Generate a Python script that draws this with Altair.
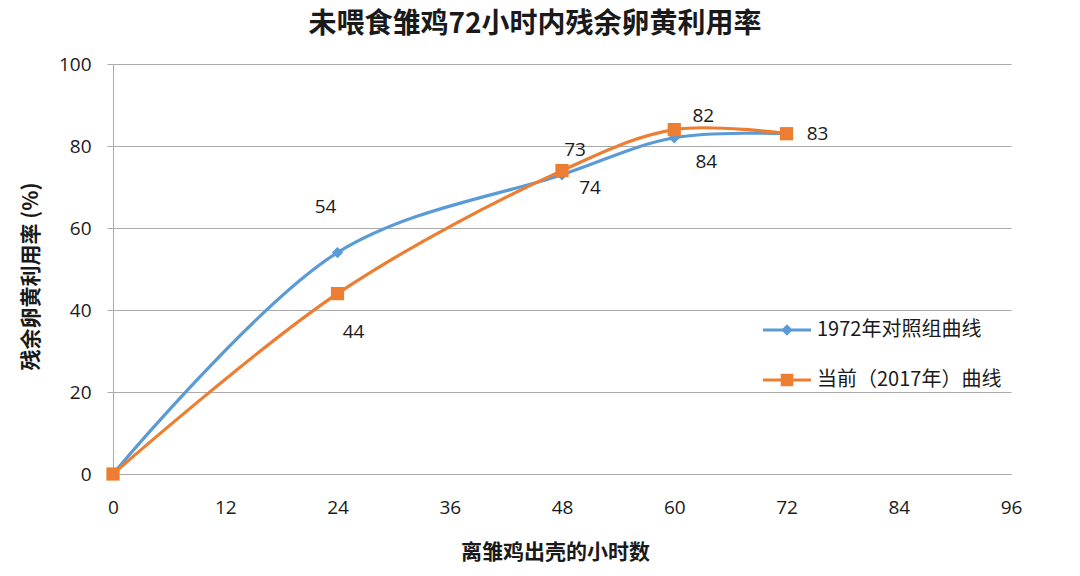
import altair as alt
import pandas as pd

# ---- data ----
hours = [0, 24, 48, 60, 72]
series_names = ["1972年对照组曲线", "当前（2017年）曲线"]
values_1972 = [0, 54, 73, 82, 83]
values_2017 = [0, 44, 74, 84, 83]
x_ticks = [0, 12, 24, 36, 48, 60, 72, 84, 96]
y_ticks = [0, 20, 40, 60, 80, 100]

rows = []
for h, v in zip(hours, values_1972):
    rows.append({"hour": h, "value": v, "series": series_names[0]})
for h, v in zip(hours, values_2017):
    rows.append({"hour": h, "value": v, "series": series_names[1]})
df = pd.DataFrame(rows)

# ---- styling ----
BLUE = "#5B9BD5"
ORANGE = "#ED7D31"
colors = [BLUE, ORANGE]
CJK = "Noto Sans CJK SC"
NUM = "Open Sans"
TXT = "#1a1a1a"
GRID = "#ababab"

x_enc = alt.X(
    "hour:Q",
    scale=alt.Scale(domain=[0, 96], nice=False, zero=False),
    axis=alt.Axis(
        values=x_ticks, grid=False, ticks=False, tickSize=0,
        domainColor=GRID, domainWidth=1, labelFlush=False,
        labelFont=NUM, labelFontSize=19, labelColor=TXT, labelPadding=24,
        title="离雏鸡出壳的小时数", titleFont=CJK, titleFontSize=21,
        titleFontWeight="bold", titleColor=TXT,
        titleX=442, titleY=78, titleBaseline="middle",
    ),
)
y_enc = alt.Y(
    "value:Q",
    scale=alt.Scale(domain=[0, 100], nice=False),
    axis=alt.Axis(
        values=y_ticks, grid=True, gridColor=GRID, gridWidth=1,
        ticks=True, tickSize=6, tickColor=GRID, labelFlush=False,
        domainColor=GRID, domainWidth=1,
        labelFont=NUM, labelFontSize=19, labelColor=TXT, labelPadding=16,
        title="残余卵黄利用率 (%)", titleFont=CJK, titleFontSize=21,
        titleFontWeight="bold", titleColor=TXT,
        titleX=-82, titleY=212, titleAngle=270, titleBaseline="middle",
    ),
)

base = alt.Chart(df).encode(x=x_enc, y=y_enc)

layers = []
for name, col in zip(series_names, colors):
    layers.append(
        base.transform_filter(alt.datum.series == name)
        .mark_line(interpolate="catmull-rom", strokeWidth=3.2, color=col)
    )
layers.append(
    base.transform_filter(alt.datum.series == series_names[0])
    .mark_point(shape="diamond", filled=True, size=130, color=BLUE, opacity=1)
)
layers.append(
    base.transform_filter(alt.datum.series == series_names[1])
    .mark_point(shape="square", filled=True, size=175, color=ORANGE, opacity=1)
)

# data labels: (series index, hour) -> pixel offset
label_offsets = [
    (0, 24, -12, -46),
    (1, 24, 16, 38),
    (0, 48, 13, -25),
    (1, 48, 28, 17),
    (0, 60, 29, -22),
    (1, 60, 32, 32),
    (1, 72, 31, 0),
]
for si, h, dx, dy in label_offsets:
    layers.append(
        base.transform_filter(
            (alt.datum.series == series_names[si]) & (alt.datum.hour == h)
        )
        .mark_text(dx=dx, dy=dy, font=NUM, fontSize=19, color=TXT, baseline="middle")
        .encode(text=alt.Text("value:Q", format="d"))
    )

# legend (line + marker symbols)
diamond_path = "M-1,-0.065L1,-0.065L1,0.065L-1,0.065Z M0,-0.24L0.24,0L0,0.24L-0.24,0Z"
square_path = "M-1,-0.065L1,-0.065L1,0.065L-1,0.065Z M-0.26,-0.26L0.26,-0.26L0.26,0.26L-0.26,0.26Z"
legend_def = alt.Legend(
    title=None, orient="none", legendX=650, legendY=242,
    symbolSize=2304, symbolOpacity=1, symbolStrokeWidth=0,
    labelFont=CJK, labelFontSize=20, labelColor=TXT,
    labelOffset=6, rowPadding=16, padding=0, labelLimit=400,
)
legend_layer = base.mark_point(filled=True, opacity=0).encode(
    color=alt.Color(
        "series:N",
        scale=alt.Scale(domain=series_names, range=colors),
        legend=legend_def,
    ),
    shape=alt.Shape(
        "series:N",
        scale=alt.Scale(domain=series_names, range=[diamond_path, square_path]),
        legend=legend_def,
    ),
)
layers.append(legend_layer)

chart = (
    alt.layer(*layers)
    .properties(
        width=898,
        height=410,
        autosize=alt.AutoSizeParams(type="none"),
        padding={"left": 105, "top": 56, "right": 61, "bottom": 100},
        title=alt.TitleParams(
            "未喂食雏鸡72小时内残余卵黄利用率",
            font=CJK, fontSize=28, fontWeight="bold", color=TXT,
            anchor="middle", dx=-27, offset=2, baseline="middle",
        ),
        background="white",
    )
    .configure_view(stroke=None)
)

chart.save("out.html", embed_options={"renderer": "svg", "actions": False})
